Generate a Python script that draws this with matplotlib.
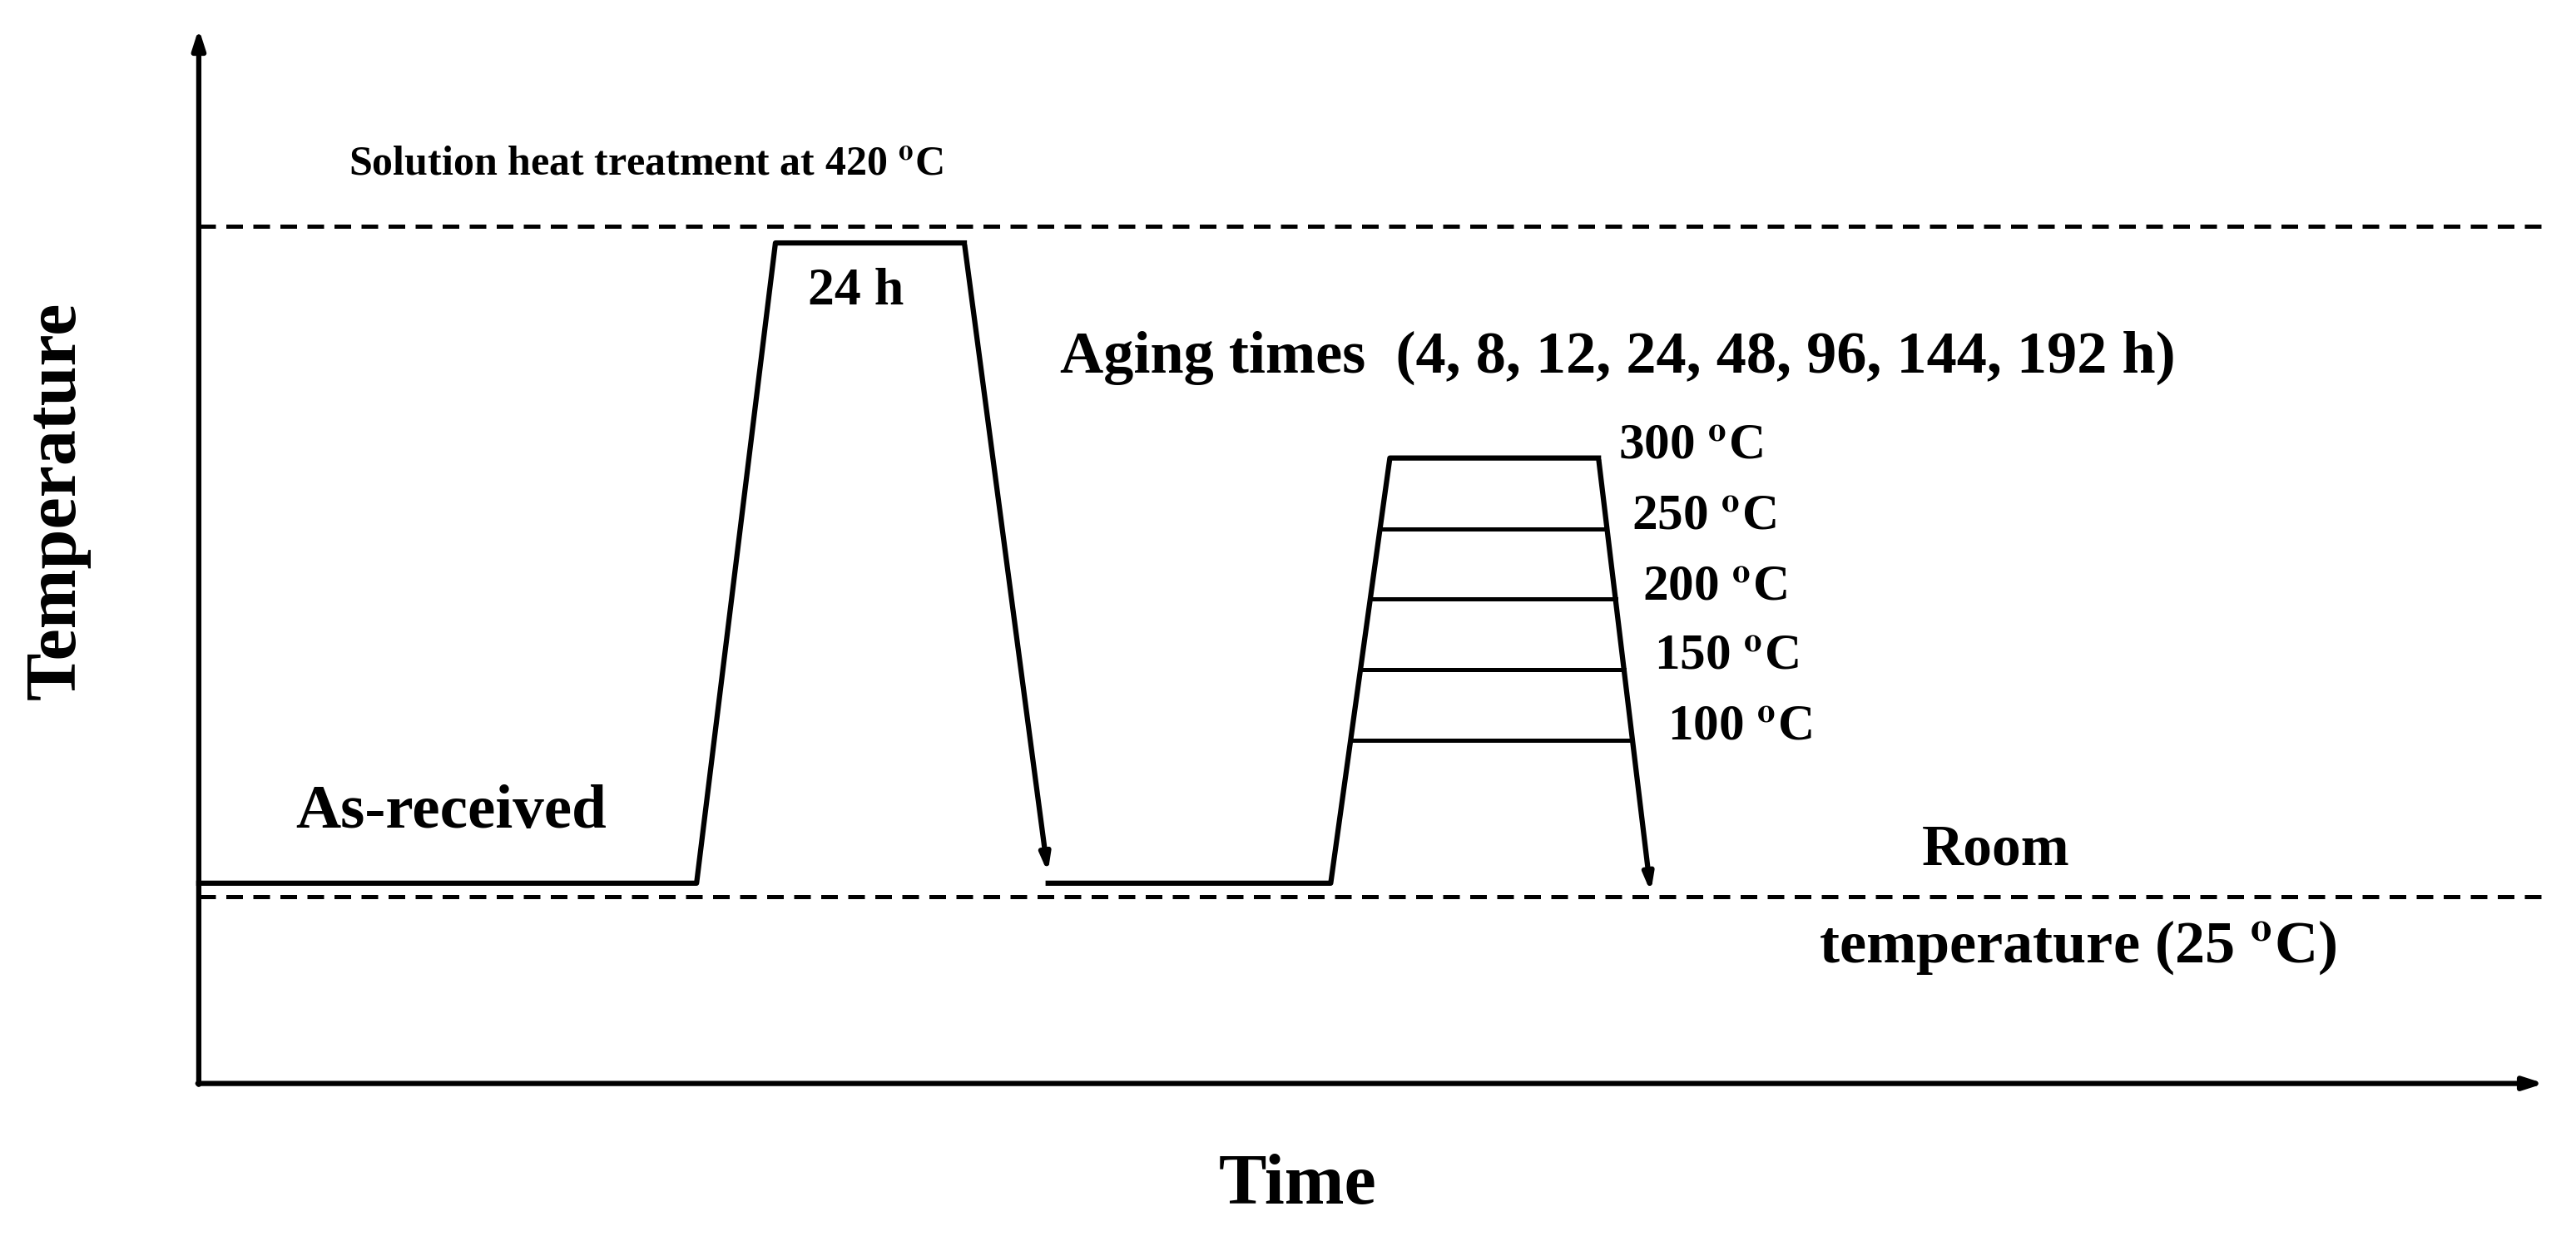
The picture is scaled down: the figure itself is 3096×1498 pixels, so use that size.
import matplotlib
matplotlib.use("Agg")
import matplotlib.pyplot as plt
plt.rcParams['mathtext.fontset'] = 'stix'

# Schematic coordinates (in a 1568 x 759 reference frame, y downward)
profile1_x = [121, 424, 472, 587, 638]
profile1_y = [538, 538, 148, 148, 533]
profile2_x = [638, 810, 846, 973, 1005]
profile2_y = [538, 538, 279, 279, 545]
aging_levels_y = [322, 365, 408, 451]
dashed_y = [138, 546]
DEG = r"$^{\mathbf{o}}$"
aging_labels = ["300 " + DEG + "C", "250 " + DEG + "C", "200 " + DEG + "C", "150 " + DEG + "C", "100 " + DEG + "C"]
aging_label_x = [985, 993, 1000, 1007, 1015]
aging_label_y = [272, 315, 358, 400, 443]

fig = plt.figure(figsize=(30.96, 14.98), dpi=100)
ax = fig.add_axes([0, 0, 1, 1])
ax.set_xlim(0, 1568)
ax.set_ylim(759, 0)
ax.axis("off")

lw = 4.5
font = dict(family="Liberation Serif", fontweight="bold", color="black")

ax.annotate("", xy=(121, 16), xytext=(121, 662),
            arrowprops=dict(arrowstyle="-|>,head_length=1.4,head_width=0.45", lw=lw, color="black"))
ax.annotate("", xy=(1550, 660), xytext=(119, 660),
            arrowprops=dict(arrowstyle="-|>,head_length=1.4,head_width=0.45", lw=lw, color="black"))

for y in dashed_y:
    ax.plot([121, 1548], [y, y], ls=(0, (4, 2.5)), lw=lw * 0.8, color="black")

ax.plot(profile1_x[:-1], profile1_y[:-1], color="black", lw=lw)
ax.annotate("", xy=(profile1_x[-1], profile1_y[-1]), xytext=(profile1_x[-2], profile1_y[-2]),
            arrowprops=dict(arrowstyle="-|>,head_length=1.2,head_width=0.35", lw=lw, color="black"))
ax.plot(profile2_x[:-1], profile2_y[:-1], color="black", lw=lw)
ax.annotate("", xy=(profile2_x[-1], profile2_y[-1]), xytext=(profile2_x[-2], profile2_y[-2]),
            arrowprops=dict(arrowstyle="-|>,head_length=1.2,head_width=0.35", lw=lw, color="black"))

for y in aging_levels_y:
    xl = profile2_x[1] + (profile2_y[1] - y) / (profile2_y[1] - profile2_y[2]) * (profile2_x[2] - profile2_x[1])
    xr = profile2_x[3] + (y - profile2_y[3]) / (profile2_y[4] - profile2_y[3]) * (profile2_x[4] - profile2_x[3])
    ax.plot([xl, xr], [y, y], color="black", lw=lw * 0.8)

ax.text(212, 100, "Solution heat treatment at 420 " + DEG + "C", fontsize=36, va="center", ha="left", **font)
ax.text(492, 178, "24 h", fontsize=46, va="center", ha="left", **font)
ax.text(645, 218, "Aging times  (4, 8, 12, 24, 48, 96, 144, 192 h)", fontsize=52, va="center", ha="left", **font)
for s, x, y in zip(aging_labels, aging_label_x, aging_label_y):
    ax.text(x, y, s, fontsize=44, va="center", ha="left", **font)
ax.text(180, 495, "As-received", fontsize=54, va="center", ha="left", **font)
ax.text(1170, 518, "Room", fontsize=50, va="center", ha="left", **font)
ax.text(1107, 577, "temperature (25 " + DEG + "C)", fontsize=52, va="center", ha="left", **font)
ax.text(35, 305, "Temperature", fontsize=62, va="center", ha="center", rotation=90, **font)
ax.text(790, 723, "Time", fontsize=62, va="center", ha="center", **font)

fig.savefig("out.png", dpi=100)
